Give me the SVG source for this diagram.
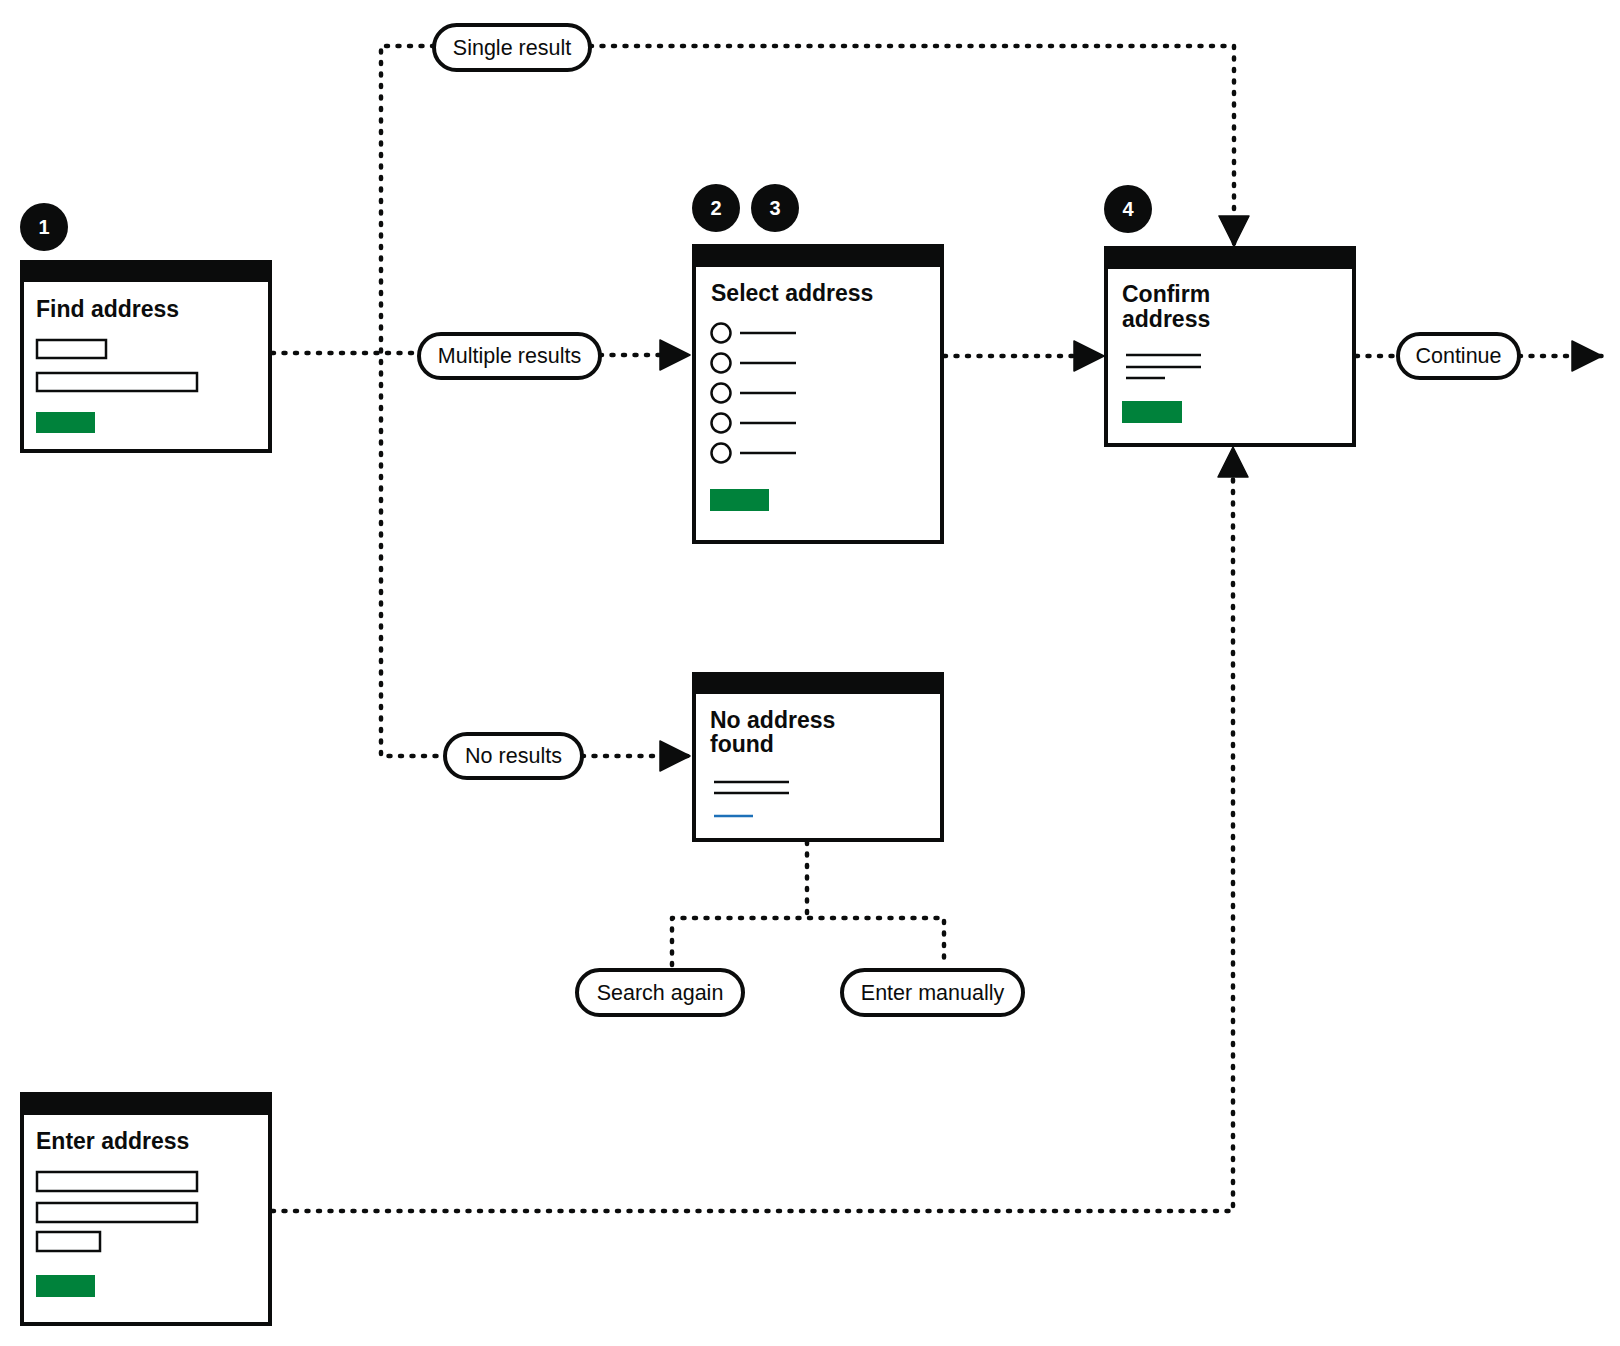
<svg xmlns="http://www.w3.org/2000/svg" width="1620" height="1346" viewBox="0 0 1620 1346">
<defs>
<style>
.frame{fill:#fff;stroke:#0b0c0c;stroke-width:4}
.bar{fill:#0b0c0c}
.title{font-family:"Liberation Sans",Arial,sans-serif;font-weight:bold;font-size:23px;fill:#0b0c0c}
.input{fill:#fff;stroke:#0b0c0c;stroke-width:2.5}
.btn{fill:#00823b}
.rule{stroke:#0b0c0c;stroke-width:2.5;fill:none}
.link{stroke:#1d70b8;stroke-width:2.5;fill:none}
.radio{fill:#fff;stroke:#0b0c0c;stroke-width:2.5}
.badge{fill:#0b0c0c}
.num{font-family:"Liberation Sans",Arial,sans-serif;font-weight:bold;font-size:20px;fill:#fff;text-anchor:middle}
.pill{fill:#fff;stroke:#0b0c0c;stroke-width:4}
.ptext{font-family:"Liberation Sans",Arial,sans-serif;font-size:21.5px;fill:#0b0c0c;text-anchor:middle}
.dot{fill:none;stroke:#0b0c0c;stroke-width:4.5;stroke-linecap:round;stroke-dasharray:2 9.5;stroke-linejoin:round}
</style>
<marker id="arrow" markerUnits="userSpaceOnUse" markerWidth="32" markerHeight="32" viewBox="-1 -1 32 32" refX="30" refY="15" orient="auto">
<path d="M0,0 L30,15 L0,30 z" fill="#0b0c0c" stroke="#0b0c0c" stroke-width="1.5" stroke-linejoin="round"/>
</marker>
</defs>
<rect width="1620" height="1346" fill="#fff"/>

<g id="connectors">
<path class="dot" d="M272,353 H419"/>
<path class="dot" d="M434,46 H381 V756 H445"/>
<path class="dot" d="M590,46 H1234 V246" marker-end="url(#arrow)"/>
<path class="dot" d="M600,355 H690" marker-end="url(#arrow)"/>
<path class="dot" d="M582,756 H690" marker-end="url(#arrow)"/>
<path class="dot" d="M944,356 H1104" marker-end="url(#arrow)"/>
<path class="dot" d="M1356,356 H1398"/>
<path class="dot" d="M1519,356 H1602" marker-end="url(#arrow)"/>
<path class="dot" d="M807,842 V918"/>
<path class="dot" d="M672,965 V918 H944 V965"/>
<path class="dot" d="M272,1211 H1233 V447" marker-end="url(#arrow)"/>
</g>

<g id="find-address">
<circle class="badge" cx="44" cy="227" r="24"/>
<text class="num" x="44" y="234">1</text>
<rect class="frame" x="22" y="262" width="248" height="189"/>
<rect class="bar" x="20" y="260" width="252" height="22"/>
<text class="title" x="36" y="317">Find address</text>
<rect class="input" x="37" y="340" width="69" height="18"/>
<rect class="input" x="37" y="373" width="160" height="18"/>
<rect class="btn" x="36" y="412" width="59" height="21"/>
</g>

<g id="select-address">
<circle class="badge" cx="716" cy="208" r="24"/>
<text class="num" x="716" y="215">2</text>
<circle class="badge" cx="775" cy="208" r="24"/>
<text class="num" x="775" y="215">3</text>
<rect class="frame" x="694" y="246" width="248" height="296"/>
<rect class="bar" x="692" y="244" width="252" height="23"/>
<text class="title" x="711" y="301">Select address</text>
<circle class="radio" cx="721" cy="333" r="9.5"/><line class="rule" x1="740" y1="333" x2="796" y2="333"/>
<circle class="radio" cx="721" cy="363" r="9.5"/><line class="rule" x1="740" y1="363" x2="796" y2="363"/>
<circle class="radio" cx="721" cy="393" r="9.5"/><line class="rule" x1="740" y1="393" x2="796" y2="393"/>
<circle class="radio" cx="721" cy="423" r="9.5"/><line class="rule" x1="740" y1="423" x2="796" y2="423"/>
<circle class="radio" cx="721" cy="453" r="9.5"/><line class="rule" x1="740" y1="453" x2="796" y2="453"/>
<rect class="btn" x="710" y="489" width="59" height="22"/>
</g>

<g id="confirm-address">
<circle class="badge" cx="1128" cy="209" r="24"/>
<text class="num" x="1128" y="216">4</text>
<rect class="frame" x="1106" y="248" width="248" height="197"/>
<rect class="bar" x="1104" y="246" width="252" height="23"/>
<text class="title" x="1122" y="302">Confirm</text>
<text class="title" x="1122" y="327">address</text>
<line class="rule" x1="1126" y1="355" x2="1201" y2="355"/>
<line class="rule" x1="1126" y1="367" x2="1201" y2="367"/>
<line class="rule" x1="1126" y1="378" x2="1165" y2="378"/>
<rect class="btn" x="1122" y="401" width="60" height="22"/>
</g>

<g id="no-address-found">
<rect class="frame" x="694" y="674" width="248" height="166"/>
<rect class="bar" x="692" y="672" width="252" height="22"/>
<text class="title" x="710" y="728">No address</text>
<text class="title" x="710" y="752">found</text>
<line class="rule" x1="714" y1="782" x2="789" y2="782"/>
<line class="rule" x1="714" y1="793" x2="789" y2="793"/>
<line class="link" x1="714" y1="816" x2="753" y2="816"/>
</g>

<g id="enter-address">
<rect class="frame" x="22" y="1094" width="248" height="230"/>
<rect class="bar" x="20" y="1092" width="252" height="23"/>
<text class="title" x="36" y="1149">Enter address</text>
<rect class="input" x="37" y="1172" width="160" height="19"/>
<rect class="input" x="37" y="1203" width="160" height="19"/>
<rect class="input" x="37" y="1232" width="63" height="19"/>
<rect class="btn" x="36" y="1275" width="59" height="22"/>
</g>

<g id="single-result">
<rect class="pill" x="434" y="25" width="156" height="45" rx="22.5"/>
<text class="ptext" x="512" y="55">Single result</text>
</g>

<g id="multiple-results">
<rect class="pill" x="419" y="334" width="181" height="44" rx="22"/>
<text class="ptext" x="509.5" y="363">Multiple results</text>
</g>

<g id="no-results">
<rect class="pill" x="445" y="734" width="137" height="44" rx="22"/>
<text class="ptext" x="513.5" y="763">No results</text>
</g>

<g id="continue">
<rect class="pill" x="1398" y="334" width="121" height="44" rx="22"/>
<text class="ptext" x="1458.5" y="363">Continue</text>
</g>

<g id="search-again">
<rect class="pill" x="577" y="970" width="166" height="45" rx="22.5"/>
<text class="ptext" x="660" y="1000">Search again</text>
</g>

<g id="enter-manually">
<rect class="pill" x="842" y="970" width="181" height="45" rx="22.5"/>
<text class="ptext" x="932.5" y="1000">Enter manually</text>
</g>
</svg>
